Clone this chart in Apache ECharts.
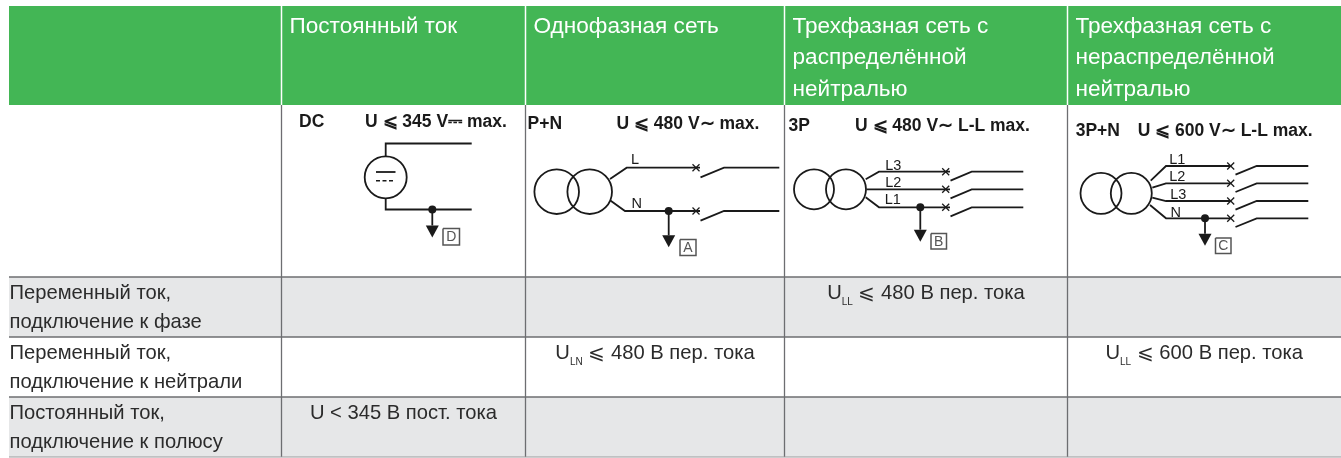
<!DOCTYPE html>
<html>
<head>
<meta charset="utf-8">
<title>Сети</title>
<style>
html,body{margin:0;padding:0;background:#fff;}
#main{width:1341px;height:458px;}
</style>
<script src="https://cdn.jsdelivr.net/npm/echarts@6/dist/echarts.min.js"></script>
</head>
<body>
<div id="main"></div>
<script>
// table content
var headerLabels = ['', 'Постоянный ток', 'Однофазная сеть', 'Трехфазная сеть с\nраспределённой\nнейтралью', 'Трехфазная сеть с\nнераспределённой\nнейтралью'];
var rowLabels = ['Переменный ток,\nподключение к фазе', 'Переменный ток,\nподключение к нейтрали', 'Постоянный ток,\nподключение к полюсу'];
var phaseRow = ['', '', ['U', 'LL', '⩽ 480 В пер. тока'], ''];
var neutralRow = ['', ['U', 'LN', '⩽ 480 В пер. тока'], '', ['U', 'LL', '⩽ 600 В пер. тока']];
var poleRow = ['U < 345 В пост. тока', '', '', ''];
var cellRows = [phaseRow, neutralRow, poleRow];
var schemeTitles = ['DC', 'P+N', '3P', '3P+N'];
var schemeLimits = ['U ⩽ 345 V⎓ max.', 'U ⩽ 480 V∼ max.', 'U ⩽ 480 V∼ L-L max.', 'U ⩽ 600 V∼ L-L max.'];
var schemeLetters = ['D', 'A', 'B', 'C'];

// layout of the page
var colEdges = [9, 281.5, 525.5, 784.5, 1067.5, 1341];
var rowEdges = [6, 105, 277, 337, 397, 457];
var GREEN = '#43b655', GREY = '#e6e7e8', RULE = '#6d6e71', INK = '#2b2b2b', SCHEME = '#1a1a1a';
var FONT = '"Liberation Sans", Arial, sans-serif';
var BODY = 20.2, HEAD = 22.6;

var prims = [];
function rect(x0, y0, x1, y1, fill){ prims.push({k:'rect', x0:x0, y0:y0, x1:x1, y1:y1, fill:fill}); }
function line(pts, color, w){ prims.push({k:'line', pts:pts, color:color, w:w}); }
function circle(x, y, r, fill){ prims.push({k:'circle', x:x, y:y, r:r, fill:fill}); }
function poly(pts, fill){ prims.push({k:'poly', pts:pts, fill:fill}); }
function text(x, y, s, o){ prims.push({k:'text', x:x, y:y, s:s, o:o}); }

// header
rect(colEdges[0], rowEdges[0], colEdges[5], rowEdges[1], GREEN);
// grey rows
rect(colEdges[0], rowEdges[2], colEdges[5], rowEdges[3], GREY);
rect(colEdges[0], rowEdges[4], colEdges[5], rowEdges[5], GREY);

// rules
var i, j;
for(i = 1; i < 5; i++){
	line([[colEdges[i], rowEdges[0]], [colEdges[i], rowEdges[1]]], '#ffffff', 1.5);
	line([[colEdges[i], rowEdges[1]], [colEdges[i], rowEdges[5]]], RULE, 1.3);
}
line([[colEdges[0], rowEdges[2]], [colEdges[5], rowEdges[2]]], RULE, 1.5);
line([[colEdges[0], rowEdges[3]], [colEdges[5], rowEdges[3]]], RULE, 1.5);
line([[colEdges[0], rowEdges[4]], [colEdges[5], rowEdges[4]]], RULE, 1.5);
line([[colEdges[0], rowEdges[5]], [colEdges[5], rowEdges[5]]], '#9a9b9d', 1);

// header text
for(i = 1; i < headerLabels.length; i++){
	text(colEdges[i] + 8, rowEdges[0] + 5, headerLabels[i], {fill:'#ffffff', size:HEAD, lh:31.5, va:'top'});
}
// row labels and cells
for(j = 0; j < rowLabels.length; j++){
	text(colEdges[0] + 0.5, rowEdges[j + 2] + 1.5, rowLabels[j], {fill:INK, size:BODY, lh:29.5, va:'top'});
	for(i = 0; i < cellRows[j].length; i++){
		var v = cellRows[j][i];
		if(!v) continue;
		var cx = (colEdges[i + 1] + colEdges[i + 2]) / 2;
		if(typeof v === 'string'){
			text(cx, rowEdges[j + 2] + 1.5, v, {fill:INK, size:BODY, lh:29.5, va:'top', align:'center'});
		}else{
			text(cx, rowEdges[j + 2] + 1.5, '{u|' + v[0] + '}{s|' + v[1] + '}{u| ' + v[2] + '}', {
				fill:INK, size:BODY, lh:29.5, va:'top', align:'center',
				rich:{
					u:{fontSize:BODY, fontFamily:FONT, fill:INK, lineHeight:29.5},
					s:{fontSize:10, fontFamily:FONT, fill:INK, lineHeight:29.5, padding:[17, 0, 0, 0]}
				}
			});
		}
	}
}

// pieces of the schemes
function wire(pts){ line(pts, SCHEME, 1.8); }
function scheme(n, titleX, limitX, textY){
	text(titleX, textY, schemeTitles[n], {fill:SCHEME, size:17.5, bold:true, va:'middle'});
	text(limitX, textY, schemeLimits[n], {fill:SCHEME, size:17.5, bold:true, va:'middle'});
}
function earth(x, y, tipY, boxX, boxY, boxW, letter){
	circle(x, y, 4, SCHEME);
	wire([[x, y], [x, tipY - 12]]);
	poly([[x - 6.5, tipY - 12], [x + 6.5, tipY - 12], [x, tipY]], SCHEME);
	line([[boxX, boxY], [boxX + boxW, boxY], [boxX + boxW, boxY + boxW], [boxX, boxY + boxW], [boxX, boxY]], '#555', 1.5);
	text(boxX + boxW / 2, boxY + boxW / 2 + 0.5, letter, {fill:'#555', size:14, va:'middle', align:'center'});
}
function transformer(x0, x1, y, r){
	prims.push({k:'ring', x:x0, y:y, r:r});
	prims.push({k:'ring', x:x1, y:y, r:r});
}
function breaker(xMark, xGap, xKnee, xEnd, y, drop){
	line([[xMark - 3.5, y - 3.5], [xMark + 3.5, y + 3.5]], SCHEME, 1.3);
	line([[xMark - 3.5, y + 3.5], [xMark + 3.5, y - 3.5]], SCHEME, 1.3);
	wire([[xGap + 0.5, y + drop], [xKnee, y], [xEnd, y]]);
}
function tag(x, y, s){ text(x, y, s, {fill:SCHEME, size:14.5, va:'middle', align:'center'}); }

// DC
scheme(0, 299, 365, 122);
wire([[471.7, 143.5], [385.7, 143.5], [385.7, 156.3]]);
prims.push({k:'ring', x:385.7, y:177.3, r:21});
wire([[385.7, 198.3], [385.7, 209.5], [471.7, 209.5]]);
wire([[376, 172], [395.5, 172]]);
line([[376, 180.7], [395.5, 180.7]], SCHEME, 1.5);
prims[prims.length - 1].dash = [4, 2.5];
earth(432.3, 209.5, 237.5, 443, 228.5, 16.5, schemeLetters[0]);

// P+N
scheme(1, 527.5, 616.5, 124);
transformer(556.7, 589.7, 191.7, 22.3);
wire([[610, 179], [626.7, 167.7], [700, 167.7]]);
breaker(696, 700, 724, 779.3, 167.7, 9.6);
tag(635, 160, 'L');
wire([[610.7, 200.7], [625, 211], [700, 211]]);
breaker(696, 700, 724, 779.3, 211, 9.6);
tag(636.7, 204, 'N');
earth(668.7, 211, 247.3, 680, 239.5, 16, schemeLetters[1]);

// 3P
scheme(2, 788.5, 855, 126);
transformer(814, 846, 189.3, 20);
wire([[865.7, 179.3], [879, 171.7], [950, 171.7]]);
wire([[866.5, 189.3], [950, 189.3]]);
wire([[865.7, 197.3], [879, 207.3], [950, 207.3]]);
breaker(945.7, 950, 971.7, 1023.3, 171.7, 9);
breaker(945.7, 950, 971.7, 1023.3, 189.3, 9);
breaker(945.7, 950, 971.7, 1023.3, 207.3, 9);
tag(893.3, 166, 'L3');
tag(893.3, 183, 'L2');
tag(892.7, 200.3, 'L1');
earth(920.3, 207.3, 241.7, 931, 233.5, 15.5, schemeLetters[2]);

// 3P+N
scheme(3, 1075.7, 1137.7, 131);
transformer(1101, 1131.3, 193.3, 20.5);
wire([[1150.7, 180.7], [1166, 166], [1230, 166]]);
wire([[1152.3, 187.7], [1166, 183.3], [1230, 183.3]]);
wire([[1152.3, 197.7], [1166, 201], [1230, 201]]);
wire([[1150, 205], [1166, 218.3], [1230, 218.3]]);
breaker(1230.7, 1235, 1256.7, 1308.3, 166, 8.7);
breaker(1230.7, 1235, 1256.7, 1308.3, 183.3, 8.7);
breaker(1230.7, 1235, 1256.7, 1308.3, 201, 8.7);
breaker(1230.7, 1235, 1256.7, 1308.3, 218.3, 8.7);
tag(1177.3, 160, 'L1');
tag(1177.3, 177.3, 'L2');
tag(1178.3, 195, 'L3');
tag(1175.7, 212.7, 'N');
earth(1205, 218.3, 245.7, 1215.5, 238, 15.5, schemeLetters[3]);

function renderPrim(params, api){
	var p = prims[params.dataIndex];
	var a, b;
	if(p.k == 'rect'){
		a = api.coord([p.x0, p.y0]);
		b = api.coord([p.x1, p.y1]);
		return {type:'rect', shape:{x:a[0], y:a[1], width:b[0] - a[0], height:b[1] - a[1]}, style:{fill:p.fill}};
	}
	if(p.k == 'line'){
		return {type:'polyline', shape:{points:p.pts.map(function(q){ return api.coord(q); })},
			style:{stroke:p.color, lineWidth:p.w, fill:null, lineDash:p.dash || null}};
	}
	if(p.k == 'poly'){
		return {type:'polygon', shape:{points:p.pts.map(function(q){ return api.coord(q); })}, style:{fill:p.fill}};
	}
	if(p.k == 'circle' || p.k == 'ring'){
		a = api.coord([p.x, p.y]);
		return {type:'circle', shape:{cx:a[0], cy:a[1], r:p.r},
			style:p.k == 'circle' ? {fill:p.fill} : {fill:null, stroke:SCHEME, lineWidth:1.8}};
	}
	a = api.coord([p.x, p.y]);
	var st = {
		x:a[0], y:a[1], text:p.s, fill:p.o.fill,
		font:(p.o.bold ? 'bold ' : '') + p.o.size + 'px ' + FONT,
		align:p.o.align || 'left', verticalAlign:p.o.va || 'top'
	};
	if(p.o.lh) st.lineHeight = p.o.lh;
	if(p.o.rich) st.rich = p.o.rich;
	return {type:'text', style:st};
}

var chart = echarts.init(document.getElementById('main'), null, {renderer:'canvas'});
chart.setOption({
	animation:false,
	backgroundColor:'#ffffff',
	grid:{left:0, right:0, top:0, bottom:0},
	xAxis:{type:'value', min:0, max:1341, show:false},
	yAxis:{type:'value', min:0, max:458, inverse:true, show:false},
	series:[{
		type:'custom',
		coordinateSystem:'cartesian2d',
		renderItem:renderPrim,
		clip:false,
		silent:true,
		data:prims.map(function(p, n){ return [n]; })
	}]
});
</script>
</body>
</html>
